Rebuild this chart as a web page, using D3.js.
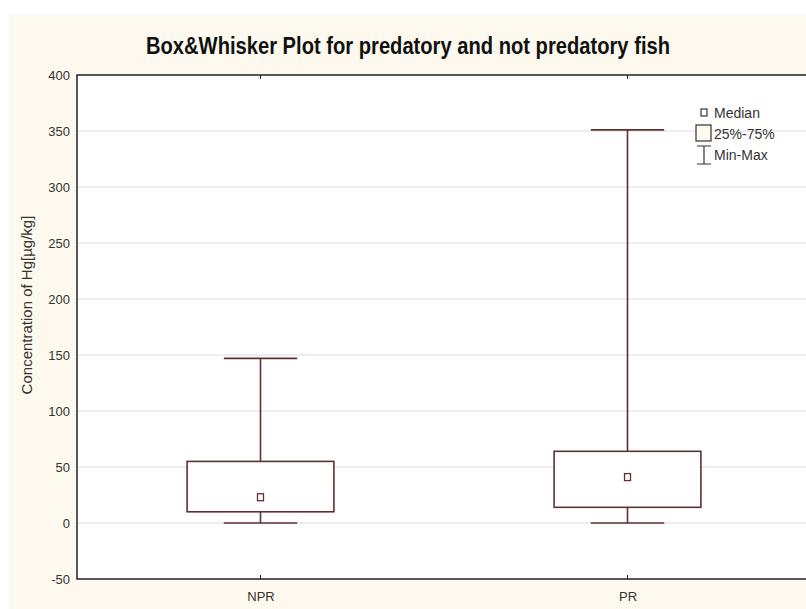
<!DOCTYPE html>
<html>
<head>
<meta charset="utf-8">
<script src="https://cdn.jsdelivr.net/npm/d3@7"></script>
<style>
  html, body { margin: 0; padding: 0; background: #ffffff; }
  svg { display: block; }
</style>
</head>
<body>
<script>
// ---- data ----
const categories = ["NPR", "PR"];
const minVals    = [0, 0];
const q1Vals     = [10, 14];
const medians    = [23, 41];
const q3Vals     = [55, 64];
const maxVals    = [147, 351];
const yTicks     = [-50, 0, 50, 100, 150, 200, 250, 300, 350, 400];
const legendLabels = ["Median", "25%-75%", "Min-Max"];

const W = 806, H = 609;
const plot = { left: 77, right: 811, top: 75, bottom: 579 };
const narrow = "'Liberation Sans Narrow', 'Arial Narrow', 'Liberation Sans', Arial, sans-serif";
const lineCol = "#5e3131";

const svg = d3.select("body").append("svg").attr("width", W).attr("height", H);

// cream page background
svg.append("rect").attr("x", 9).attr("y", 15).attr("width", W - 9).attr("height", H - 15).attr("fill", "#fdf9ee");
// white plot area
svg.append("rect").attr("x", plot.left).attr("y", plot.top)
  .attr("width", plot.right - plot.left).attr("height", plot.bottom - plot.top).attr("fill", "#ffffff");

const x = d3.scalePoint().domain(categories).range([plot.left, plot.right]).padding(0.5);
const y = d3.scaleLinear().domain([-50, 400]).range([plot.bottom, plot.top]);
const boxW = (plot.right - plot.left) * 0.2;
const capW = boxW / 2;

// gridlines
svg.append("g").selectAll("line").data(yTicks.filter(t => t > -50 && t < 400)).join("line")
  .attr("x1", plot.left).attr("x2", plot.right)
  .attr("y1", d => y(d)).attr("y2", d => y(d))
  .attr("stroke", "#dcdcdc").attr("stroke-width", 1);

// y axis
const yAxis = svg.append("g").attr("transform", `translate(${plot.left},0)`)
  .call(d3.axisLeft(y).tickValues(yTicks).tickFormat(d => String(d)).tickSize(0).tickPadding(7));
yAxis.select(".domain").remove();
yAxis.selectAll("text").attr("font-family", narrow).attr("font-size", 13).attr("fill", "#333");

// x axis labels
const xAxis = svg.append("g").attr("transform", `translate(0,${plot.bottom})`)
  .call(d3.axisBottom(x).tickSize(0).tickPadding(13));
xAxis.select(".domain").remove();
xAxis.selectAll("text").attr("font-family", narrow).attr("font-size", 13).attr("fill", "#333");

// tick marks top / bottom at categories
svg.append("g").selectAll("line").data(categories).join("line")
  .attr("x1", d => x(d)).attr("x2", d => x(d))
  .attr("y1", plot.bottom).attr("y2", plot.bottom - 4)
  .attr("stroke", "#222");
svg.append("g").selectAll("line").data(categories).join("line")
  .attr("x1", d => x(d)).attr("x2", d => x(d))
  .attr("y1", plot.top).attr("y2", plot.top + 4)
  .attr("stroke", "#222");

// frame
svg.append("path")
  .attr("d", `M${plot.right},${plot.top}H${plot.left}V${plot.bottom}H${plot.right}`)
  .attr("fill", "none").attr("stroke", "#222").attr("stroke-width", 1.5);

// boxes
const g = svg.append("g").attr("stroke", lineCol).attr("stroke-width", 1.6).attr("fill", "none");
categories.forEach((c, i) => {
  const cx = x(c);
  g.append("line").attr("x1", cx).attr("x2", cx).attr("y1", y(maxVals[i])).attr("y2", y(q3Vals[i]));
  g.append("line").attr("x1", cx).attr("x2", cx).attr("y1", y(q1Vals[i])).attr("y2", y(minVals[i]));
  g.append("line").attr("x1", cx - capW / 2).attr("x2", cx + capW / 2).attr("y1", y(maxVals[i])).attr("y2", y(maxVals[i]));
  g.append("line").attr("x1", cx - capW / 2).attr("x2", cx + capW / 2).attr("y1", y(minVals[i])).attr("y2", y(minVals[i]));
  g.append("rect").attr("x", cx - boxW / 2).attr("y", y(q3Vals[i]))
    .attr("width", boxW).attr("height", y(q1Vals[i]) - y(q3Vals[i])).attr("fill", "#ffffff");
  g.append("rect").attr("x", cx - 3).attr("y", y(medians[i]) - 3.5)
    .attr("width", 6).attr("height", 7).attr("fill", "#ffffff").attr("stroke-width", 1.3);
});

// legend
const lg = svg.append("g");
const lt = (t, yy) => lg.append("text").attr("x", 714).attr("y", yy).text(t)
  .attr("font-family", narrow).attr("font-size", 14).attr("fill", "#333");
lg.append("rect").attr("x", 701).attr("y", 109).attr("width", 6).attr("height", 7)
  .attr("fill", "#fff").attr("stroke", "#333").attr("stroke-width", 1.2);
lt(legendLabels[0], 118);
lg.append("rect").attr("x", 696).attr("y", 125).attr("width", 15).attr("height", 16)
  .attr("fill", "#fdf9ee").attr("stroke", "#333").attr("stroke-width", 1.2);
lt(legendLabels[1], 139);
lg.append("path").attr("d", "M697,146H711M704,146V164M697,164H711")
  .attr("fill", "none").attr("stroke", "#333").attr("stroke-width", 1.2);
lt(legendLabels[2], 160);

// title
svg.append("text").attr("x", 408).attr("y", 54).attr("text-anchor", "middle")
  .attr("font-family", narrow).attr("font-weight", "bold").attr("font-size", 23).attr("fill", "#111")
  .attr("textLength", 524).attr("lengthAdjust", "spacingAndGlyphs")
  .text("Box&Whisker Plot for predatory and not predatory fish");

// y label
svg.append("text").attr("transform", "translate(32,305) rotate(-90)").attr("text-anchor", "middle")
  .attr("font-family", "'Liberation Sans', Arial, sans-serif").attr("font-size", 15).attr("fill", "#333")
  .text("Concentration of Hg[µg/kg]");
</script>
</body>
</html>
